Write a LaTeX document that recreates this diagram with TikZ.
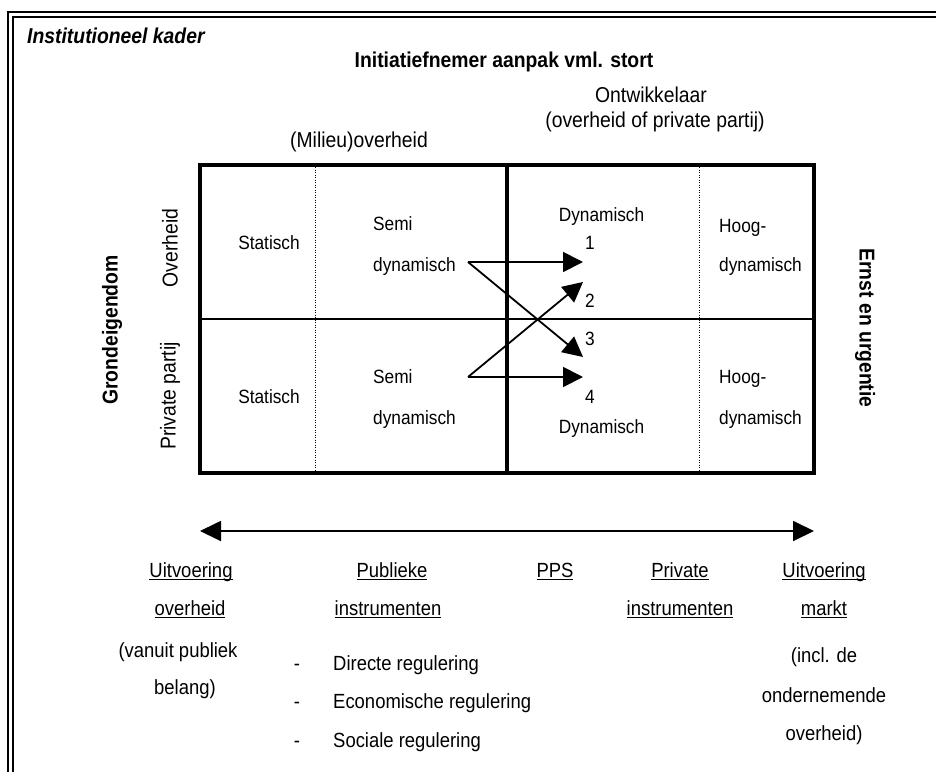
\documentclass[tikz,border=0pt]{standalone}
\usepackage{fontspec}
\setmainfont{Liberation Sans}[FakeStretch=0.9]
\usetikzlibrary{arrows.meta}
\newcommand\fhead{\fontsize{21.5}{26}\selectfont}
\newcommand\fcell{\fontsize{19.2}{23}\selectfont}
\newcommand\fbot{\fontsize{20.5}{24}\selectfont}
\newcommand\myul[1]{\setbox0\hbox{#1}\rlap{\rule[-3.2pt]{\wd0}{1.3pt}}\box0}
\begin{document}
\begin{tikzpicture}[x=1pt,y=-1pt,
  lbl/.style={inner sep=0pt,anchor=base,font=\fhead},
  cell/.style={inner sep=0pt,anchor=base,font=\fcell},
  cellw/.style={cell,anchor=base west},
  bot/.style={inner sep=0pt,anchor=base,font=\fbot},
  botw/.style={bot,anchor=base west},
  vert/.style={inner sep=0pt,anchor=center,font=\fhead},
  boxline/.style={line width=4pt},
  thinline/.style={line width=1.5pt},
  dotline/.style={line width=1pt,dash pattern=on 1pt off 1.5pt},
  arr/.style={line width=1.8pt,-{Triangle[length=20pt,width=20pt]}},
  darr/.style={line width=1.8pt,{Triangle[length=21pt,width=20pt]}-{Triangle[length=21pt,width=20pt]}},
]
\useasboundingbox (0,0) rectangle (936,771);
\clip (0,0) rectangle (936,771);
% page frame (double line)
\draw[line width=2.2pt] (8,800) -- (8,12) -- (960,12);
\draw[line width=2pt] (13,800) -- (13,16.5) -- (960,16.5);

% titles
\node[lbl,anchor=base west,font=\fhead\bfseries\itshape] (kader) at (27,43) {Institutioneel kader};
\node[lbl,font=\fhead\bfseries] (init) at (504,67) {Initiatiefnemer aanpak vml. stort};
\node[lbl] (ontw) at (651,102) {Ontwikkelaar};
\node[lbl] (ontw2) at (655,127) {(overheid of private partij)};
\node[lbl] (milieu) at (359,147) {(Milieu)overheid};

% side labels
\node[vert,rotate=90,font=\fhead\bfseries] (grond) at (112,330) {Grondeigendom};
\node[vert,rotate=90] (ovh) at (170,248) {Overheid};
\node[vert,rotate=90] (priv) at (170,396) {Private partij};
\node[vert,rotate=-90,font=\fhead\bfseries] (ernst) at (865,328) {Ernst en urgentie};

% grid
\draw[thinline] (200,319) -- (814,319);
\draw[dotline] (315,167) -- (315,471);
\draw[dotline] (699,167) -- (699,471);
\draw[boxline] (200,165) rectangle (814,473);
\draw[boxline] (507,165) -- (507,473);

% cell texts
\node[cell] (st1) at (269,249) {Statisch};
\node[cell] (st2) at (269,403) {Statisch};
\node[cellw] (se1) at (373,230) {Semi};
\node[cellw] (sd1) at (373,271) {dynamisch};
\node[cellw] (se2) at (373,383) {Semi};
\node[cellw] (sd2) at (373,424) {dynamisch};
\node[cell] (dy1) at (601.5,221) {Dynamisch};
\node[cell] (dy2) at (601.5,433) {Dynamisch};
\node[cellw] (n1) at (585,249) {1};
\node[cellw] (n2) at (585,307) {2};
\node[cellw] (n3) at (585,345) {3};
\node[cellw] (n4) at (585,403) {4};
\node[cellw] (ho1) at (719,232) {Hoog-};
\node[cellw] (hd1) at (719,271) {dynamisch};
\node[cellw] (ho2) at (719,383) {Hoog-};
\node[cellw] (hd2) at (719,424) {dynamisch};

% arrows
\coordinate (s1) at (468,262);
\coordinate (s2) at (468,377);
\coordinate (e1) at (583,262);
\coordinate (e2) at (583,282);
\coordinate (e3) at (583,357);
\coordinate (e4) at (583,377);
\draw[arr] (s1) -- (e1);
\draw[arr] (s2) -- (e2);
\draw[arr] (s1) -- (e3);
\draw[arr] (s2) -- (e4);

% bottom axis
\coordinate (bl) at (200,531);
\coordinate (br) at (814,531);
\draw[darr] (bl) -- (br);

% bottom labels
\node[bot] (u1) at (191,577) {\myul{Uitvoering}};
\node[bot] (u2) at (190,615) {\myul{overheid}};
\node[bot] (u3) at (178,657) {(vanuit publiek};
\node[bot] (u4) at (185,694) {belang)};
\node[bot] (p1) at (392,577) {\myul{Publieke}};
\node[bot] (p2) at (388,615) {\myul{instrumenten}};
\node[bot] (d1) at (297,670) {-};
\node[bot] (d2) at (297,708) {-};
\node[bot] (d3) at (297,747) {-};
\node[botw] (r1) at (333,670) {Directe regulering};
\node[botw] (r2) at (333,708) {Economische regulering};
\node[botw] (r3) at (333,747) {Sociale regulering};
\node[bot] (pps) at (555,577) {\myul{PPS}};
\node[bot] (pr1) at (680,577) {\myul{Private}};
\node[bot] (pr2) at (680,615) {\myul{instrumenten}};
\node[bot] (m1) at (824,577) {\myul{Uitvoering}};
\node[bot] (m2) at (824,615) {\myul{markt}};
\node[bot] (m3) at (824,662) {(incl. de};
\node[bot] (m4) at (824,702) {ondernemende};
\node[bot] (m5) at (824,740) {overheid)};
\end{tikzpicture}
\end{document}
